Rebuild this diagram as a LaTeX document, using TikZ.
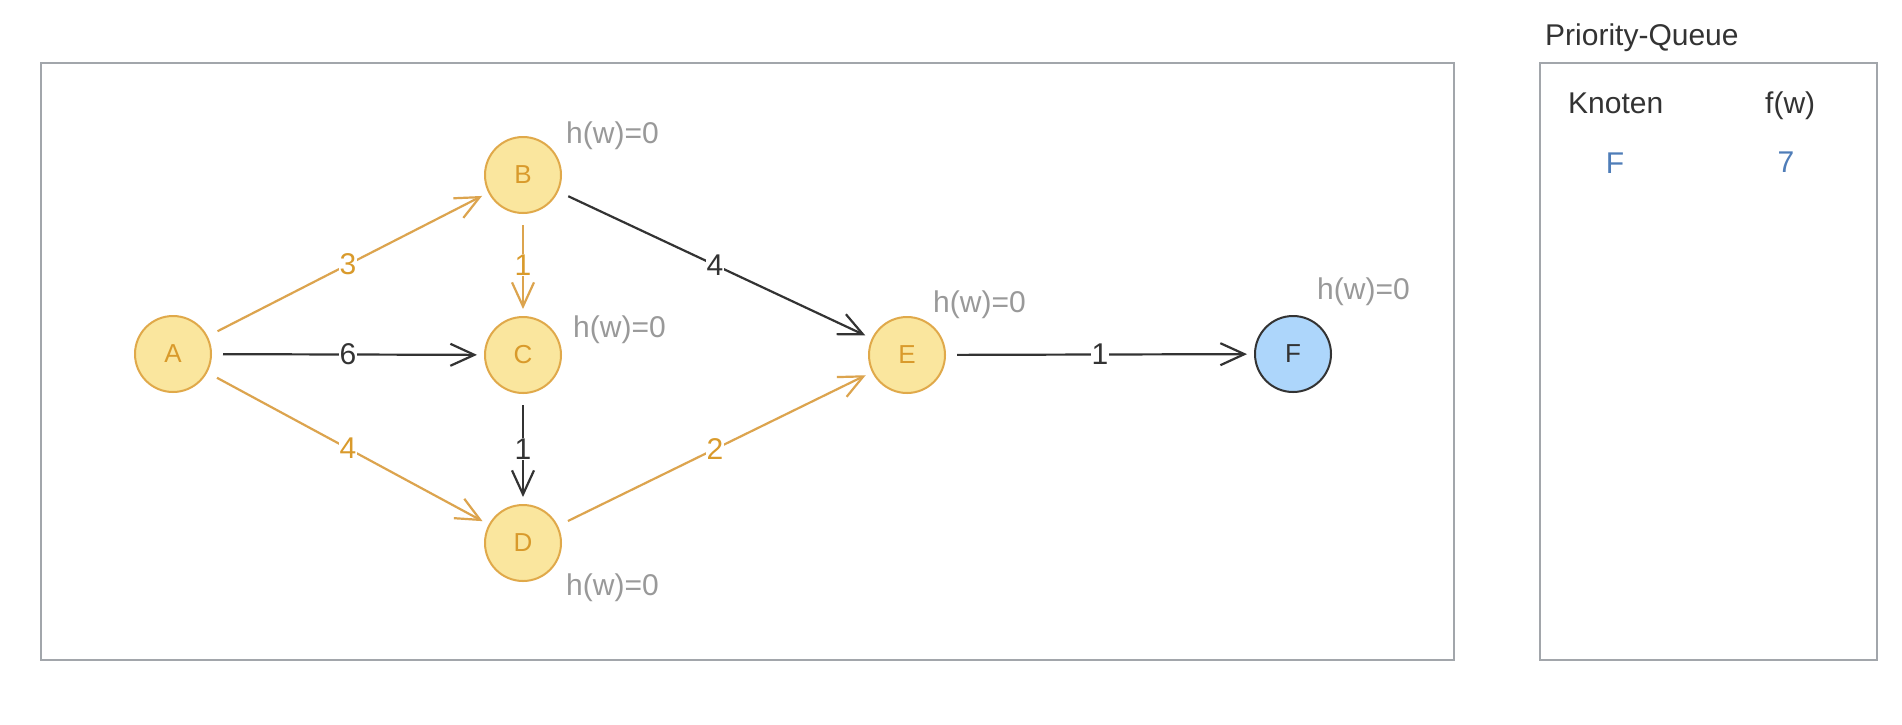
\documentclass[tikz,border=0pt]{standalone}
\usepackage{fontspec}
\setmainfont{Liberation Sans}
\usetikzlibrary{arrows.meta}
\definecolor{nfill}{HTML}{FAE69E}
\definecolor{nstroke}{HTML}{E0A94A}
\definecolor{ntext}{HTML}{D99A2B}
\definecolor{oline}{HTML}{DCA44E}
\definecolor{dark}{HTML}{333333}
\definecolor{bfill}{HTML}{ADD6FB}
\definecolor{qblue}{HTML}{4F7DB8}
\definecolor{hgray}{HTML}{999999}
\definecolor{boxgray}{HTML}{A2A6AB}
\begin{document}
\begin{tikzpicture}[x=1pt,y=-1pt,
  vert/.style={circle, minimum size=76pt, inner sep=0pt, line width=2pt,
    draw=nstroke, fill=nfill, text=ntext, font=\fontsize{26}{30}\selectfont},
  goal/.style={vert, draw=dark, fill=bfill, text=dark},
  edge/.style={line width=2.2pt, -{Straight Barb[length=24pt,width=22pt]},
    shorten <=11pt, shorten >=7pt},
  oedge/.style={edge, draw=oline},
  kedge/.style={edge, draw=dark},
  wlab/.style={fill=white, inner sep=1pt, font=\fontsize{30}{34}\selectfont},
  olab/.style={wlab, text=ntext},
  klab/.style={wlab, text=dark},
  hlab/.style={text=hgray, inner sep=0pt, anchor=base west, font=\fontsize{30}{34}\selectfont},
  qtxt/.style={inner sep=0pt, font=\fontsize{30}{34}\selectfont},
  frame/.style={draw=boxgray, line width=2.5pt}
]
\useasboundingbox (0,0) rectangle (1902,724);
\fill[white] (0,0) rectangle (1902,724);

% frames
\draw[frame] (41,63) rectangle (1454,660);
\draw[frame] (1540,63) rectangle (1877,660);

% vertices
\node[vert] (A) at (173,354) {A};
\node[vert] (B) at (523,175) {B};
\node[vert] (C) at (523,355) {C};
\node[vert] (D) at (523,543) {D};
\node[vert] (E) at (907,355) {E};
\node[goal] (F) at (1293,354) {F};

% heuristic labels
\node[hlab] (hB) at (566,143) {h(w)=0};
\node[hlab] (hC) at (573,337) {h(w)=0};
\node[hlab] (hD) at (566,595) {h(w)=0};
\node[hlab] (hE) at (933,312) {h(w)=0};
\node[hlab] (hF) at (1317,299) {h(w)=0};

% edges
\draw[oedge] (A) -- node[olab] {3} (B);
\draw[kedge] (A) -- node[klab] {6} (C);
\draw[oedge] (A) -- node[olab] {4} (D);
\draw[oedge] (B) -- node[olab] {1} (C);
\draw[kedge] (B) -- node[klab] {4} (E);
\draw[kedge] (C) -- node[klab] {1} (D);
\draw[oedge] (D) -- node[olab] {2} (E);
\draw[kedge] (E) -- node[klab] {1} (F);

% priority queue
\node[qtxt, anchor=base west, text=dark] (pq) at (1545,45) {Priority-Queue};
\node[qtxt, anchor=base west, text=dark] (kn) at (1568,113) {Knoten};
\node[qtxt, anchor=base west, text=dark] (fw) at (1765,113) {f(w)};
\node[qtxt, anchor=base, text=qblue] (qF) at (1615,173) {F};
\node[qtxt, anchor=base, text=qblue] (q7) at (1786,172) {7};
\end{tikzpicture}
\end{document}
